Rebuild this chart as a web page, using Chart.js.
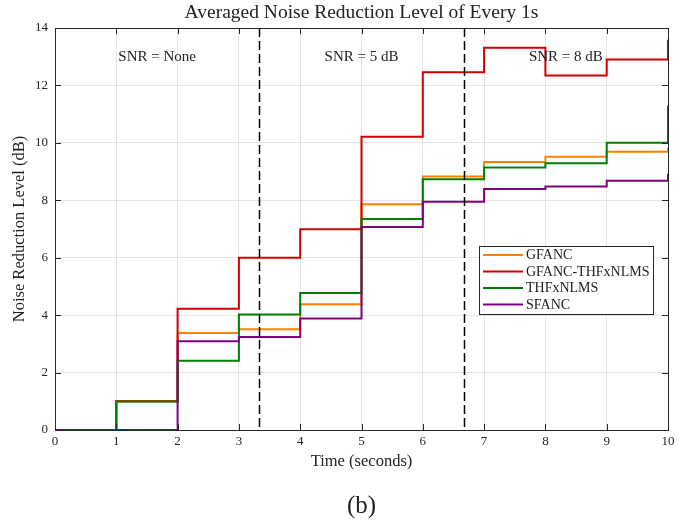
<!DOCTYPE html>
<html><head><meta charset="utf-8">
<script src="https://cdn.jsdelivr.net/npm/chart.js@4/dist/chart.umd.min.js"></script>
<style>html,body{margin:0;padding:0;background:#fff}#wrap{width:697px;height:520px;position:relative}</style>
</head><body><div id="wrap"><canvas id="c" width="697" height="520"></canvas></div>
<script>
const timeSeconds = [0, 1, 2, 3, 4, 5, 6, 7, 8, 9, 10];
const gfanc        = [0, 1.00, 3.38, 3.51, 4.38, 7.86, 8.83, 9.33, 9.52, 9.69, 9.83];
const gfancThfxnlms= [0, 1.00, 4.22, 6.00, 6.99, 10.21, 12.46, 13.31, 12.35, 12.90, 13.59];
const thfxnlms     = [0, 0.99, 2.41, 4.02, 4.77, 7.35, 8.73, 9.14, 9.29, 10.00, 11.30];
const sfanc        = [0, 0.00, 3.09, 3.24, 3.88, 7.07, 7.95, 8.39, 8.48, 8.68, 8.92];
const seriesNames = ['GFANC', 'GFANC-THFxNLMS', 'THFxNLMS', 'SFANC'];
const xTicks = [0, 1, 2, 3, 4, 5, 6, 7, 8, 9, 10];
const yTicks = [0, 2, 4, 6, 8, 10, 12, 14];
const snrBoundaries = [10/3, 20/3];
const snrLabels = ['SNR = None', 'SNR = 5 dB', 'SNR = 8 dB'];
const snrLabelX = [5/3, 5, 25/3];
const snrLabelY = 13.0;

const colors = ['rgb(255,128,0)', 'rgb(210,0,0)', 'rgb(0,128,0)', 'rgb(128,0,128)'];
const SERIF = '"Liberation Serif", "DejaVu Serif", serif';
const seriesValues = [gfanc, gfancThfxnlms, thfxnlms, sfanc];

const datasets = seriesValues.map((vals, i) => ({
  label: seriesNames[i],
  data: timeSeconds.map((t, k) => ({x: t, y: vals[k]})),
  stepped: 'before',
  borderColor: colors[i],
  backgroundColor: colors[i],
  borderWidth: 2,
  pointRadius: 0,
  fill: false,
  clip: false,
  order: seriesValues.length - 1 - i
}));

const overlay = {
  id: 'overlay',
  afterDatasetsDraw(chart) {
    const ctx = chart.ctx, a = chart.chartArea;
    const xs = chart.scales.x, ys = chart.scales.y;
    ctx.save();
    // dashed SNR boundaries
    ctx.strokeStyle = '#000';
    ctx.lineWidth = 1.5;
    ctx.setLineDash([9, 4]);
    snrBoundaries.forEach(b => {
      const px = Math.round(xs.getPixelForValue(b)) + 0.5;
      ctx.beginPath(); ctx.moveTo(px, a.top); ctx.lineTo(px, a.bottom); ctx.stroke();
    });
    ctx.setLineDash([]);
    // SNR labels
    ctx.fillStyle = '#222';
    ctx.font = '15px ' + SERIF;
    ctx.textAlign = 'center'; ctx.textBaseline = 'middle';
    snrLabels.forEach((t, i) => ctx.fillText(t, xs.getPixelForValue(snrLabelX[i]), ys.getPixelForValue(snrLabelY)));
    // box
    ctx.strokeStyle = '#262626'; ctx.lineWidth = 1;
    ctx.strokeRect(Math.round(a.left) + 0.5, Math.round(a.top) + 0.5, Math.round(a.right - a.left), Math.round(a.bottom - a.top));
    // inner ticks
    ctx.beginPath();
    xTicks.forEach(v => {
      const px = Math.round(xs.getPixelForValue(v)) + 0.5;
      ctx.moveTo(px, a.bottom); ctx.lineTo(px, a.bottom - 6);
      ctx.moveTo(px, a.top); ctx.lineTo(px, a.top + 6);
    });
    yTicks.forEach(v => {
      const py = Math.round(ys.getPixelForValue(v)) + 0.5;
      ctx.moveTo(a.left, py); ctx.lineTo(a.left + 6, py);
      ctx.moveTo(a.right, py); ctx.lineTo(a.right - 6, py);
    });
    ctx.stroke();
    // legend
    const lx = 479, ly = 246, lw = 174, lh = 68;
    ctx.fillStyle = '#fff';
    ctx.fillRect(lx, ly, lw, lh);
    ctx.strokeStyle = '#262626'; ctx.lineWidth = 1;
    ctx.strokeRect(lx + 0.5, ly + 0.5, lw, lh);
    ctx.font = '14px ' + SERIF; ctx.textAlign = 'left'; ctx.textBaseline = 'middle';
    seriesNames.forEach((n, i) => {
      const yy = ly + 9 + i * 16.5;
      ctx.strokeStyle = colors[i]; ctx.lineWidth = 2;
      ctx.beginPath(); ctx.moveTo(lx + 4, yy); ctx.lineTo(lx + 44, yy); ctx.stroke();
      ctx.fillStyle = '#222';
      ctx.fillText(n, lx + 47, yy + 0.5);
    });
    // titles
    ctx.fillStyle = '#222';
    ctx.textAlign = 'center'; ctx.textBaseline = 'middle';
    ctx.font = '19.5px ' + SERIF;
    ctx.fillText('Averaged Noise Reduction Level of Every 1s', (a.left + a.right) / 2, 13);
    ctx.font = '16.5px ' + SERIF;
    ctx.fillText('Time (seconds)', (a.left + a.right) / 2, 462);
    ctx.font = '25px ' + SERIF;
    ctx.fillText('(b)', (a.left + a.right) / 2, 506);
    ctx.save();
    ctx.translate(20, (a.top + a.bottom) / 2);
    ctx.rotate(-Math.PI / 2);
    ctx.font = '16.5px ' + SERIF;
    ctx.fillText('Noise Reduction Level (dB)', 0, 0);
    ctx.restore();
    ctx.restore();
  }
};

new Chart(document.getElementById('c'), {
  type: 'line',
  data: { datasets },
  options: {
    responsive: false,
    animation: false,
    devicePixelRatio: 1,
    layout: { padding: { left: 0, right: 29, top: 28, bottom: 0 } },
    plugins: { legend: { display: false }, tooltip: { enabled: false }, title: { display: false } },
    scales: {
      x: {
        type: 'linear', min: 0, max: 10,
        afterFit: s => { s.height = 90; },
        afterBuildTicks: s => { s.ticks = xTicks.map(v => ({value: v})); },
        ticks: { color: '#262626', font: { family: SERIF, size: 13 }, padding: 4, maxRotation: 0 },
        grid: { color: '#e5e5e5', drawTicks: false, lineWidth: 1 },
        border: { display: false }
      },
      y: {
        type: 'linear', min: 0, max: 14,
        afterFit: s => { s.width = 55; },
        afterBuildTicks: s => { s.ticks = yTicks.map(v => ({value: v})); },
        ticks: { color: '#262626', font: { family: SERIF, size: 13 }, padding: 7 },
        grid: { color: '#e5e5e5', drawTicks: false, lineWidth: 1 },
        border: { display: false }
      }
    }
  },
  plugins: [overlay]
});
</script></body></html>
